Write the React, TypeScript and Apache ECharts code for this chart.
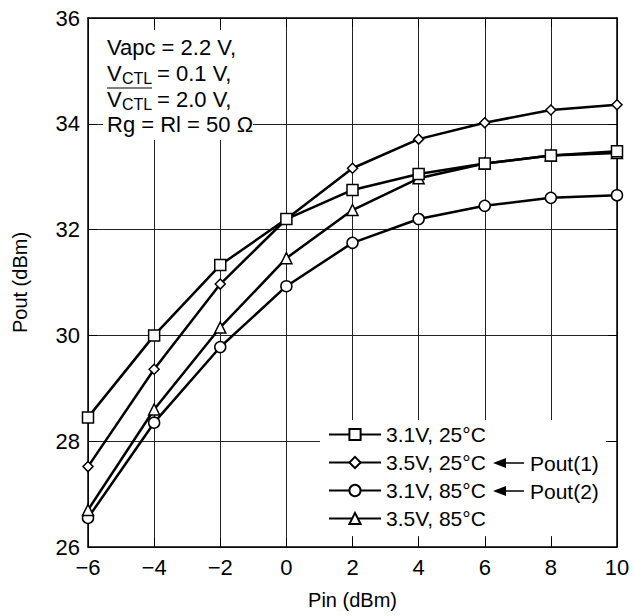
import React, { useEffect, useRef } from "react";
import * as echarts from "echarts";

const pinValues = [-6, -4, -2, 0, 2, 4, 6, 8, 10];
const seriesNames = ["3.1V, 25°C", "3.5V, 25°C", "3.1V, 85°C", "3.5V, 85°C"];
const pout31v25c = [28.45, 30.0, 31.33, 32.2, 32.75, 33.05, 33.25, 33.4, 33.48];
const pout35v25c = [27.52, 29.36, 30.97, 32.2, 33.16, 33.71, 34.02, 34.26, 34.36];
const pout31v85c = [26.55, 28.35, 29.78, 30.93, 31.75, 32.2, 32.45, 32.6, 32.65];
const pout35v85c = [26.7, 28.6, 30.15, 31.46, 32.37, 32.97, 33.25, 33.4, 33.45];
const symbols = ["rect", "diamond", "circle", "triangle"];
const symbolSizes = [11, 10, 11, 11];

const FONT = "'Liberation Sans', Arial, Helvetica, sans-serif";

export default function App() {
  const ref = useRef<HTMLDivElement>(null);
  useEffect(() => {
    if (!ref.current) return;
    const chart = echarts.init(ref.current, undefined, { renderer: "svg" });
    const allData = [pout31v25c, pout35v25c, pout31v85c, pout35v85c];
    const fmt = (v: number) => (v < 0 ? "\u2212" + Math.abs(v) : String(v));
    const tickAxisX = (pos: "bottom" | "top", showLabel: boolean) => ({
      type: "value",
      position: pos,
      min: -6,
      max: 10,
      interval: 2,
      axisLine: { show: true, onZero: false, lineStyle: { color: "#000", width: 1.5 } },
      axisTick: { show: true, inside: true, length: 9, lineStyle: { color: "#000", width: 1 } },
      axisLabel: { show: showLabel, formatter: fmt, color: "#000", fontSize: 22, fontFamily: FONT, margin: 9 },
      splitLine: { show: showLabel, lineStyle: { color: "#222", width: 1 } },
    });
    const tickAxisY = (pos: "left" | "right", showLabel: boolean) => ({
      type: "value",
      position: pos,
      min: 26,
      max: 36,
      interval: 2,
      axisLine: { show: true, onZero: false, lineStyle: { color: "#000", width: 1.5 } },
      axisTick: { show: true, inside: true, length: 9, lineStyle: { color: "#000", width: 1 } },
      axisLabel: { show: showLabel, color: "#000", fontSize: 22, fontFamily: FONT, margin: 8 },
      splitLine: { show: showLabel, lineStyle: { color: "#222", width: 1 } },
    });
    const xBottom: any = tickAxisX("bottom", true);
    xBottom.name = "Pin (dBm)";
    xBottom.nameLocation = "middle";
    xBottom.nameGap = 43;
    xBottom.nameTextStyle = { color: "#000", fontSize: 20, fontFamily: FONT };
    const yLeft: any = tickAxisY("left", true);
    yLeft.name = "Pout (dBm)";
    yLeft.nameLocation = "middle";
    yLeft.nameGap = 58;
    yLeft.nameTextStyle = { color: "#000", fontSize: 20, fontFamily: FONT };

    const textEl = (text: string, x: number, y: number, size = 22) => ({
      type: "text",
      x,
      y,
      z: 10,
      style: { text, fill: "#000", font: `${size}px ${FONT}`, verticalAlign: "middle" },
    });

    const arrow = (y: number, label: string) => [
      {
        type: "polygon",
        z: 10,
        shape: { points: [[493, y], [506, y - 5], [506, y + 5]] },
        style: { fill: "#000" },
      },
      {
        type: "line",
        z: 10,
        shape: { x1: 504, y1: y, x2: 524, y2: y },
        style: { stroke: "#000", lineWidth: 1.5 },
      },
      textEl(label, 530, y, 21),
    ];

    chart.setOption({
      animation: false,
      grid: { left: 88, right: 17, top: 18, bottom: 69, containLabel: false },
      xAxis: [xBottom, { ...tickAxisX("top", false) }],
      yAxis: [yLeft, { ...tickAxisY("right", false) }],
      legend: {
        orient: "vertical",
        left: 328,
        top: 424,
        padding: 0,
        itemWidth: 52,
        itemHeight: 14,
        itemGap: 7,
        textStyle: { color: "#000", fontSize: 21, fontFamily: FONT, lineHeight: 21 },
        data: seriesNames,
      },
      graphic: {
        elements: [
          { type: "rect", z: 1, shape: { x: 103, y: 30, width: 150, height: 110 }, style: { fill: "#fff" } },
          { type: "rect", z: 1, shape: { x: 320, y: 420, width: 286, height: 116 }, style: { fill: "#fff" } },
          textEl("Vapc = 2.2 V,", 107, 47),
          textEl("V", 107, 73),
          textEl("CTL", 122, 78, 16),
          textEl("= 0.1 V,", 157, 73),
          { type: "line", z: 10, shape: { x1: 107, y1: 88, x2: 152, y2: 88 }, style: { stroke: "#000", lineWidth: 1.2 } },
          textEl("V", 107, 99),
          textEl("CTL", 122, 104, 16),
          textEl("= 2.0 V,", 157, 99),
          textEl("Rg = Rl = 50 \u03A9", 107, 124),
          ...arrow(463, "Pout(1)"),
          ...arrow(491, "Pout(2)"),
        ],
      },
      series: allData.map((d, i) => ({
        name: seriesNames[i],
        type: "line",
        xAxisIndex: 0,
        yAxisIndex: 0,
        data: pinValues.map((x, j) => [x, d[j]]),
        symbol: symbols[i],
        symbolSize: symbolSizes[i],
        showAllSymbol: true,
        z: i === 0 ? 4 : 3,
        lineStyle: { color: "#000", width: 2.5 },
        itemStyle: { color: "#fff", borderColor: "#000", borderWidth: 1.5 },
      })),
    });
    return () => chart.dispose();
  }, []);
  return (
    <div
      ref={ref}
      style={{ position: "fixed", left: 0, top: 0, width: 634, height: 616, background: "#fff" }}
    />
  );
}
